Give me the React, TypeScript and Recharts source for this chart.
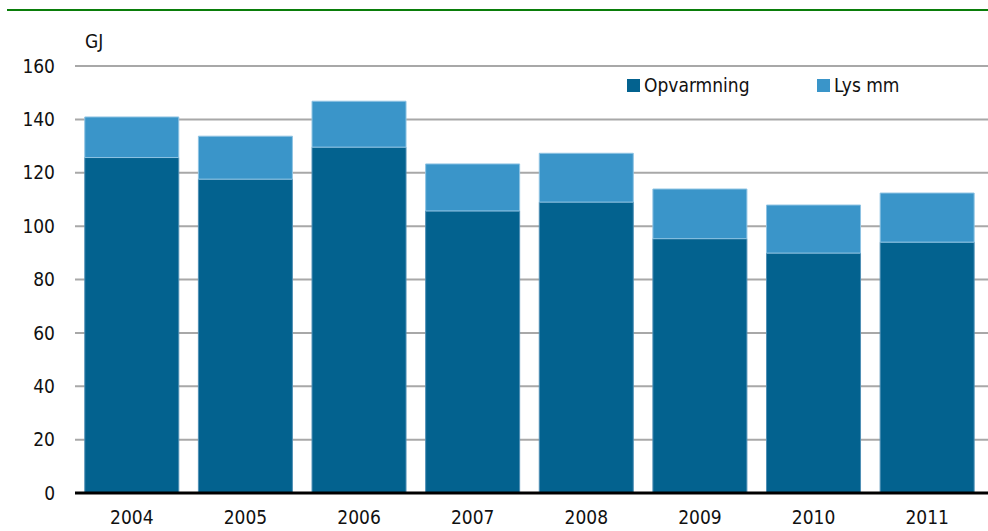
import React from 'react';
import { BarChart, Bar, XAxis, YAxis, CartesianGrid } from 'recharts';

// Energiforbrug pr. husstand (GJ)
const years = ['2004', '2005', '2006', '2007', '2008', '2009', '2010', '2011'];
const opvarmning = [125.7, 117.6, 129.6, 105.7, 109.0, 95.3, 89.9, 94.0];
const lysMm = [15.2, 16.1, 17.2, 17.6, 18.3, 18.6, 18.0, 18.4];
const yTicks = [0, 20, 40, 60, 80, 100, 120, 140, 160];

const data = years.map((year, i) => ({
  year,
  opvarmning: opvarmning[i],
  lysMm: lysMm[i],
}));

const font = '"DejaVu Sans", sans-serif';
const darkBlue = '#03628f';
const lightBlue = '#3a95c9';

export default function App() {
  return (
    <div
      style={{
        position: 'absolute',
        left: 0,
        top: 0,
        width: 988,
        height: 531,
        background: '#fff',
        fontFamily: font,
        fontStretch: 'condensed',
        color: '#111',
      }}
    >
      <div style={{ position: 'absolute', left: 7, right: 0, top: 9, height: 2, background: '#0a7d0a' }} />
      <div style={{ position: 'absolute', left: 85, top: 30, fontSize: 19 }}>GJ</div>
      <div style={{ position: 'absolute', left: 627, top: 74, fontSize: 19, display: 'flex', alignItems: 'center' }}>
        <span style={{ width: 13, height: 13, background: darkBlue, marginRight: 4 }} />
        Opvarmning
      </div>
      <div style={{ position: 'absolute', left: 817, top: 74, fontSize: 19, display: 'flex', alignItems: 'center' }}>
        <span style={{ width: 13, height: 13, background: lightBlue, marginRight: 4 }} />
        Lys mm
      </div>
      <BarChart
        width={988}
        height={531}
        data={data}
        margin={{ top: 66, right: 0, left: 8, bottom: 8 }}
        barCategoryGap="8.6%"
      >
        <CartesianGrid vertical={false} stroke="#a8a8a8" strokeWidth={2} />
        <XAxis
          dataKey="year"
          height={30}
          axisLine={{ stroke: '#000', strokeWidth: 3 }}
          tickLine={false}
          tickSize={0}
          tickMargin={18}
          padding={{ left: 0, right: 4 }}
          tick={{ fill: '#111', fontSize: 19, fontFamily: font }}
        />
        <YAxis
          width={67}
          domain={[0, 160]}
          ticks={yTicks}
          interval={0}
          axisLine={false}
          tickLine={false}
          tickSize={0}
          tickMargin={20}
          tick={{ fill: '#111', fontSize: 19, fontFamily: font }}
        />
        <Bar
          dataKey="opvarmning"
          name="Opvarmning"
          stackId="a"
          fill={darkBlue}
          stroke="#4f8fb5"
          strokeWidth={1}
          isAnimationActive={false}
        />
        <Bar
          dataKey="lysMm"
          name="Lys mm"
          stackId="a"
          fill={lightBlue}
          stroke="#8ec3e3"
          strokeWidth={1}
          isAnimationActive={false}
        />
      </BarChart>
    </div>
  );
}
